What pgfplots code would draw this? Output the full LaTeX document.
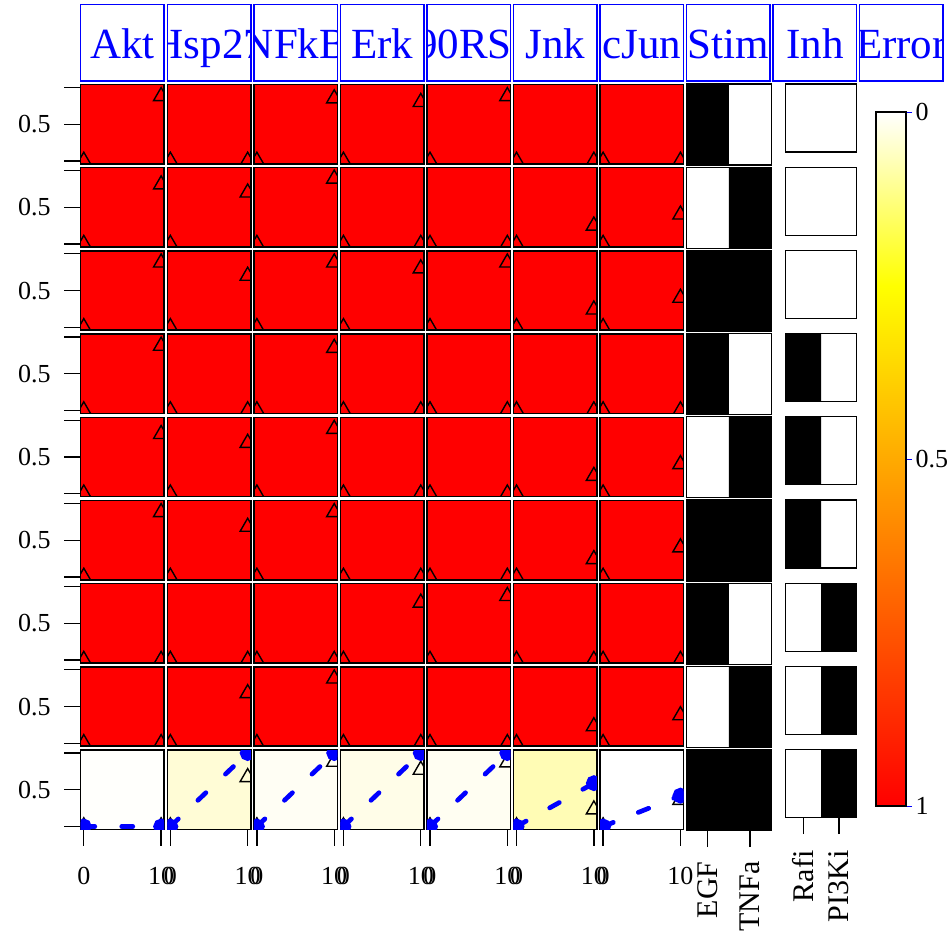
\documentclass[border=0pt]{standalone}
\usepackage{fontspec}
\setmainfont{Liberation Serif}
\usepackage{pgfplots}
\pgfplotsset{compat=1.18}

% background colours of the last row (error of each fit)
\definecolor{eAkt}{HTML}{FFFFFC}
\definecolor{eHsp}{HTML}{FFFCD6}
\definecolor{eNFk}{HTML}{FFFEF4}
\definecolor{eErk}{HTML}{FFFDE8}
\definecolor{eRSK}{HTML}{FFFEF2}
\definecolor{eJnk}{HTML}{FFFCB5}
\definecolor{eJun}{HTML}{FFFFFF}

\pgfplotsset{
  panel/.style={scale only axis, anchor=north west, xtick=\empty, ytick=\empty,
    axis line style={line width=1.5pt}, tick align=outside, tick pos=left,
    tick style={black, line width=1.3pt}, major tick length=16.5pt,
    tick label style={font=\fontsize{26}{30}\selectfont}},
  dp/.style={panel, width=83.5pt, height=79.3pt,
    xmin=-0.4, xmax=10.4, ymin=-0.04, ymax=1.04, clip marker paths=true},
  cell/.style 2 args={at={(80.7pt+86.55pt*#1,-84.5pt-83.2pt*#2)}},
  yt/.style={ytick={0,0.5,1}, yticklabels={,0.5,}, yticklabel style={xshift=-10pt}},
  xt/.style={xtick={0,10}, xticklabels={0,10}, xticklabel style={yshift=-18pt}},
  tri/.style={only marks, mark=triangle, mark size=8.7pt,
    mark options={black, line width=1.4pt}},
  sim/.style={blue, line width=4.7pt, dash pattern=on 11pt off 27pt, line cap=round,
    mark=*, mark size=5.5pt, mark options={solid, blue}},
  rot/.style={xticklabel style={rotate=90, anchor=east, font=\fontsize{30}{30}\selectfont}},
}

% red panel: column, row, data value at t=10
\newcommand{\rp}[4][]{%
  \begin{axis}[dp, cell={#2}{#3}, axis background/.style={fill=red}, #1]
    \addplot[tri] coordinates {(0,0) (10,#4)};
  \end{axis}}
\newcommand{\redrow}[8]{%
  \rp[yt]{0}{#1}{#2}\rp{1}{#1}{#3}\rp{2}{#1}{#4}\rp{3}{#1}{#5}%
  \rp{4}{#1}{#6}\rp{5}{#1}{#7}\rp{6}{#1}{#8}}
% last row: column, colour, data, simulation at t=10
\newcommand{\bp}[5][]{%
  \begin{axis}[dp, cell={#2}{8}, xt, axis background/.style={fill=#3}, #1]
    \addplot[tri] coordinates {(0,0) (10,#4)};
    \addplot[sim] coordinates {(0,0) (10,#5)};
  \end{axis}}
% stimuli: row, EGF, TNFa
\newcommand{\stim}[4][]{%
  \begin{axis}[panel, width=84.5pt, height=81pt, at={(686.6pt,-84pt-83.2pt*#2)},
      xmin=0.5, xmax=2.5, ymin=0, ymax=1, axis line style={line width=1.2pt}, #1]
    \addplot[ybar interval, fill=black, draw=none] coordinates {(0.5,#3) (1.5,#4) (2.5,0)};
  \end{axis}}
% inhibitors: row, Rafi, PI3Ki
\newcommand{\inh}[4][]{%
  \begin{axis}[panel, width=71pt, height=68pt, at={(785.7pt,-84pt-83.2pt*#2)},
      xmin=0.5, xmax=2.5, ymin=0, ymax=1, axis line style={line width=1.2pt}, #1]
    \addplot[ybar interval, fill=black, draw=none] coordinates {(0.5,#3) (1.5,#4) (2.5,0)};
  \end{axis}}

\begin{document}
\begin{tikzpicture}
\useasboundingbox (0,0) rectangle (947pt,-937pt);

%        row  Akt  Hsp27 NFkB Erk  p90RSK Jnk cJun
\redrow{0}{0.88}{0}{0.85}{0.80}{0.88}{0}{0}
\redrow{1}{0.81}{0.70}{0.89}{0}{0}{0.25}{0.40}
\redrow{2}{0.88}{0.70}{0.88}{0.80}{0.88}{0.24}{0.40}
\redrow{3}{0.88}{0}{0.85}{0}{0}{0}{0}
\redrow{4}{0.81}{0.69}{0.88}{0}{0}{0.24}{0.40}
\redrow{5}{0.88}{0.68}{0.88}{0}{0}{0.24}{0.40}
\redrow{6}{0}{0}{0}{0.78}{0.87}{0}{0}
\redrow{7}{0}{0.68}{0.88}{0}{0}{0.23}{0.38}

\bp[yt]{0}{eAkt}{0}{0}
\bp{1}{eHsp}{0.67}{1}
\bp{2}{eNFk}{0.88}{1}
\bp{3}{eErk}{0.77}{1}
\bp{4}{eRSK}{0.87}{1}
\bp{5}{eJnk}{0.23}{0.59}
\bp{6}{eJun}{0.36}{0.42}

\stim{0}{1}{0}
\stim{1}{0}{1}
\stim{2}{1}{1}
\stim{3}{1}{0}
\stim{4}{0}{1}
\stim{5}{1}{1}
\stim{6}{1}{0}
\stim{7}{0}{1}
\stim[xtick={1,2}, xticklabels={EGF,TNFa}, rot, xticklabel shift=11pt]{8}{1}{1}

\inh{0}{0}{0}
\inh{1}{0}{0}
\inh{2}{0}{0}
\inh{3}{1}{0}
\inh{4}{1}{0}
\inh{5}{1}{0}
\inh{6}{0}{1}
\inh{7}{0}{1}
\inh[xtick={1,2}, xticklabels={Rafi,PI3Ki}, rot, xticklabel shift=13pt]{8}{0}{1}

% error colour scale
\begin{axis}[panel, width=30pt, height=694pt, at={(876pt,-112pt)},
    xmin=0, xmax=1, ymin=0, ymax=1, y dir=reverse, axis on top,
    ytick={0,0.5,1}, yticklabels={0,0.5,1}, ytick pos=right, yticklabel pos=right,
    major tick length=6pt, tick style={blue, line width=1pt},
    colormap={err}{rgb255(0cm)=(255,255,255); rgb255(1cm)=(255,255,0); rgb255(4cm)=(255,0,0)},
    point meta min=0, point meta max=1]
  \addplot[surf, shader=interp, mesh/rows=5, mesh/cols=2, point meta=explicit]
    coordinates {(0,0)[0] (1,0)[0] (0,0.25)[0.25] (1,0.25)[0.25]
      (0,0.5)[0.5] (1,0.5)[0.5] (0,0.75)[0.75] (1,0.75)[0.75] (0,1)[1] (1,1)[1]};
\end{axis}

% column headers
\foreach \k/\t in {0/Akt,1/Hsp27,2/NFkB,3/Erk,4/p90RSK,5/Jnk,6/cJun,7/Stim,8/Inh,9/Error}{
  \pgfmathsetmacro\hx{80.7+86.55*\k}
  \fill[white] (\hx pt,-4.7pt) rectangle ++(83.5pt,-76.3pt);
  \begin{scope}
    \clip (\hx pt,-4.7pt) rectangle ++(83.5pt,-76.3pt);
    \node[blue, anchor=base, font=\fontsize{43}{43}\selectfont, inner sep=0pt]
      at (\hx pt+41.75pt,-58pt) {\t};
  \end{scope}
  \draw[blue, line width=1.5pt] (\hx pt,-4.7pt) rectangle ++(83.5pt,-76.3pt);
}
\end{tikzpicture}
\end{document}
